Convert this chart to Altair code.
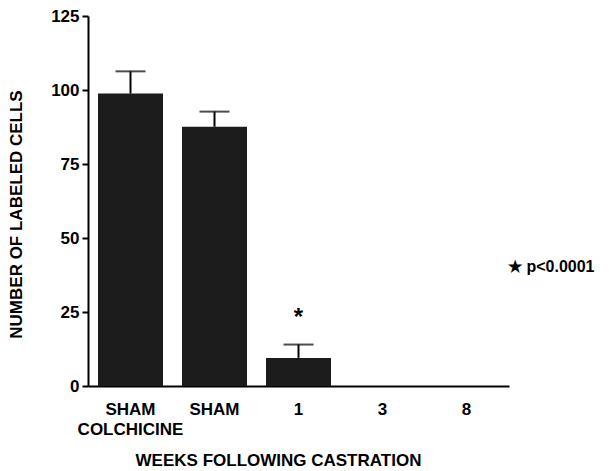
import altair as alt
import pandas as pd

groups = ["SHAM COLCHICINE", "SHAM", "1", "3", "8"]
means = [98.8, 87.6, 9.5, 0, 0]
err_hi = [106.3, 92.7, 14.0, 0, 0]
sig = ["", "", "*", "", ""]
y_ticks = [0, 25, 50, 75, 100, 125]

df = pd.DataFrame({"group": groups, "mean": means, "hi": err_hi, "sig": sig})

FONT = "Liberation Sans"

x_enc = alt.X(
    "group:N",
    sort=groups,
    scale=alt.Scale(paddingInner=0.226, paddingOuter=0.119),
    axis=alt.Axis(
        title="WEEKS FOLLOWING CASTRATION",
        labelAngle=0,
        ticks=False,
        labelExpr="datum.value == 'SHAM COLCHICINE' ? ['SHAM', 'COLCHICINE'] : datum.label",
        labelFont=FONT, labelFontSize=17, labelFontWeight="bold", labelColor="black",
        labelPadding=15, labelLineHeight=20, labelBaseline="top",
        titleFont=FONT, titleFontSize=17, titleFontWeight="bold", titleColor="black",
        titleX=190, titleAnchor="middle", titlePadding=15,
        domainColor="black", domainWidth=2,
    ),
)

y_enc = alt.Y(
    "mean:Q",
    scale=alt.Scale(domain=[0, 125], nice=False),
    axis=alt.Axis(
        title="NUMBER OF LABELED CELLS",
        values=y_ticks,
        grid=False,
        tickSize=6, tickWidth=2, tickColor="black",
        domainColor="black", domainWidth=2,
        labelFont=FONT, labelFontSize=17, labelFontWeight="bold", labelColor="black",
        labelPadding=3,
        titleFont=FONT, titleFontSize=17, titleFontWeight="bold", titleColor="black",
        titleX=-72, titleY=198, titleBaseline="middle", titleAlign="center",
    ),
)

bars = alt.Chart(df).mark_bar(color="#1c1c1c").encode(x=x_enc, y=y_enc)

stems = alt.Chart(df).mark_rule(color="black", strokeWidth=2).encode(
    x=alt.X("group:N", sort=groups), y="mean:Q", y2="hi:Q"
)
caps = alt.Chart(df[df["hi"] > 0]).mark_tick(color="black", thickness=2, size=30).encode(
    x=alt.X("group:N", sort=groups), y="hi:Q"
)
stars = alt.Chart(df).mark_text(
    font=FONT, fontSize=24, fontWeight="bold", color="black", dy=-27, baseline="middle"
).encode(x=alt.X("group:N", sort=groups), y="hi:Q", text="sig:N")

legend = alt.Chart(pd.DataFrame({"t": ["\u2605 p<0.0001"]})).mark_text(
    font=FONT, fontSize=16, fontWeight="bold", color="black", align="left", baseline="middle"
).encode(x=alt.value(420), y=alt.value(251), text="t:N")

chart = (
    alt.layer(bars, stems, caps, stars, legend)
    .properties(
        width=421, height=370,
        autosize=alt.AutoSizeParams(type="none"),
        padding={"left": 80, "top": 8, "right": 92, "bottom": 85},
    )
    .configure_view(stroke=None)
)

chart.save("out.html", embed_options={"renderer": "svg", "actions": False})
